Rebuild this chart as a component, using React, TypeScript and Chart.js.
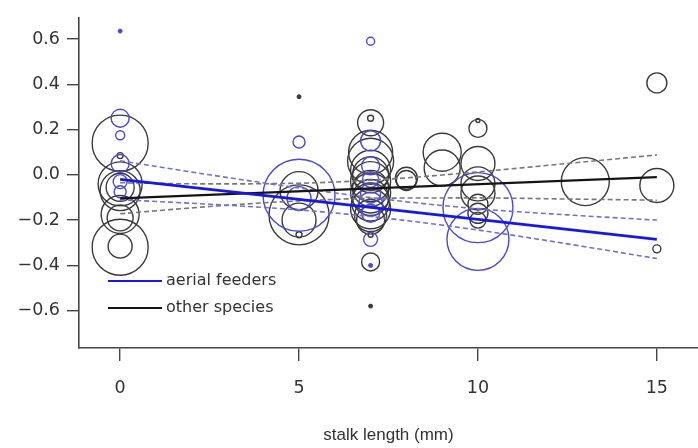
import React, { useEffect, useRef } from 'react';
import { Chart, registerables } from 'chart.js';

Chart.register(...registerables);

// ---- data ----
const xTicks = [0, 5, 10, 15];
const yTicks = [-0.6, -0.4, -0.2, 0, 0.2, 0.4, 0.6];
const seriesNames = ['aerial feeders', 'other species'];
const xTitle = 'stalk length (mm)';

// [stalk length, residual, circle radius(px)]
const aerialBubbles: [number, number, number][] = [
  [0, 0.25, 9], [0, 0.175, 4.5], [0, 0.05, 9], [0, -0.03, 7], [0, -0.075, 6],
  [5, 0.145, 6], [5, -0.09, 36], [5, -0.105, 12],
  [7, 0.59, 4], [7, 0.15, 10], [7, 0.04, 9], [7, -0.02, 8], [7, -0.08, 10],
  [7, -0.13, 12], [7, -0.17, 9], [7, -0.285, 7],
  [10, -0.145, 35], [10, -0.285, 31],
];
const aerialDots: [number, number][] = [[0, 0.635], [7, -0.4]];

const otherBubbles: [number, number, number][] = [
  [0, 0.14, 28], [0, 0.085, 3], [0, -0.04, 22], [0, -0.07, 20], [0, -0.055, 14],
  [0, -0.175, 19], [0, -0.19, 13], [0, -0.32, 28], [0, -0.315, 12],
  [5, -0.07, 19], [5, -0.2, 17], [5, -0.177, 30], [5, -0.265, 3],
  [7, 0.23, 13], [7, 0.25, 3], [7, 0.1, 22], [7, 0.06, 23], [7, 0.02, 20],
  [7, 0.0, 18], [7, -0.03, 20], [7, -0.06, 18], [7, -0.08, 20], [7, -0.1, 18],
  [7, -0.12, 19], [7, -0.15, 20], [7, -0.18, 16], [7, -0.2, 14], [7, -0.265, 2.5],
  [7, -0.385, 9],
  [8, -0.015, 11], [8, -0.025, 10],
  [9, 0.1, 19], [9, 0.03, 18],
  [10, 0.205, 9], [10, 0.24, 2], [10, 0.05, 17], [10, -0.04, 17], [10, -0.08, 17],
  [10, -0.13, 10], [10, -0.17, 10], [10, -0.2, 8],
  [13, -0.03, 24],
  [15, 0.406, 10], [15, -0.047, 17], [15, -0.327, 4],
];
const otherDots: [number, number][] = [[5, 0.345], [7, -0.58]];

const fitX = [0, 15];
const aerialFit = [-0.02, -0.285];
const otherFit = [-0.104, -0.01];

const ciX = [0, 2.5, 5, 7.5, 10, 12.5, 15];
const aerialUpper = [0.062, 0.0, -0.058, -0.11, -0.15, -0.177, -0.2];
const aerialLower = [-0.11, -0.13, -0.155, -0.193, -0.244, -0.305, -0.37];
const otherUpper = [-0.035, -0.04, -0.037, -0.019, 0.013, 0.05, 0.088];
const otherLower = [-0.172, -0.14, -0.115, -0.103, -0.102, -0.107, -0.112];

// ---- styles ----
const BLUE_CIRCLE = '#4848d4';
const BLUE_LINE = '#1818e4';
const BLUE_DASH = '#7272cc';
const BLACK_CIRCLE = '#3a3a3a';
const BLACK_LINE = '#151515';
const GREY_DASH = '#777777';
const AXIS = '#444444';
const TEXT = '#333333';

const toXY = (xs: number[], ys: number[]) => xs.map((x, i) => ({ x, y: ys[i] }));

const legendPlugin = {
  id: 'insideLegend',
  afterDraw(chart: any) {
    const ctx = chart.ctx as CanvasRenderingContext2D;
    const left = chart.chartArea.left;
    const rows = [
      { name: seriesNames[0], color: BLUE_LINE, y: 281, base: 285 },
      { name: seriesNames[1], color: BLACK_LINE, y: 308, base: 312 },
    ];
    ctx.save();
    rows.forEach((r) => {
      ctx.beginPath();
      ctx.strokeStyle = r.color;
      ctx.lineWidth = 2;
      ctx.moveTo(left + 29, r.y);
      ctx.lineTo(left + 83, r.y);
      ctx.stroke();
      ctx.fillStyle = TEXT;
      ctx.font = '16px "DejaVu Sans"';
      ctx.textBaseline = 'alphabetic';
      ctx.textAlign = 'left';
      ctx.fillText(r.name, left + 87, r.base);
    });
    ctx.restore();
  },
};

const fmtY = (v: number) => {
  const s = Math.abs(v).toFixed(1);
  return v < -1e-9 ? '\u2212' + s : s;
};

export default function App() {
  const ref = useRef<HTMLCanvasElement | null>(null);

  useEffect(() => {
    document.body.style.margin = '0';
    if (!ref.current) return;
    const lineDs = (data: any[], color: string, width: number, dash: number[], tension = 0) => ({
      type: 'line' as const,
      data,
      borderColor: color,
      borderWidth: width,
      borderDash: dash,
      pointRadius: 0,
      fill: false,
      tension,
      cubicInterpolationMode: 'monotone',
      order: 0,
    });
    const chart = new Chart(ref.current, {
      type: 'bubble',
      data: {
        datasets: [
          lineDs(toXY(fitX, aerialFit), BLUE_LINE, 2.6, []),
          lineDs(toXY(fitX, otherFit), BLACK_LINE, 2.4, []),
          lineDs(toXY(ciX, aerialUpper), BLUE_DASH, 1.6, [5, 3], 0.4),
          lineDs(toXY(ciX, aerialLower), BLUE_DASH, 1.6, [5, 3], 0.4),
          lineDs(toXY(ciX, otherUpper), GREY_DASH, 1.6, [5, 3], 0.4),
          lineDs(toXY(ciX, otherLower), GREY_DASH, 1.6, [5, 3], 0.4),
          {
            type: 'bubble',
            data: aerialBubbles.map(([x, y, r]) => ({ x, y, r })),
            borderColor: BLUE_CIRCLE,
            backgroundColor: 'rgba(0,0,0,0)',
            borderWidth: 1.4,
            order: 1,
          },
          {
            type: 'bubble',
            data: otherBubbles.map(([x, y, r]) => ({ x, y, r })),
            borderColor: BLACK_CIRCLE,
            backgroundColor: 'rgba(0,0,0,0)',
            borderWidth: 1.4,
            order: 1,
          },
          {
            type: 'bubble',
            data: aerialDots.map(([x, y]) => ({ x, y, r: 2 })),
            borderColor: BLUE_CIRCLE,
            backgroundColor: BLUE_CIRCLE,
            borderWidth: 1,
            order: 1,
          },
          {
            type: 'bubble',
            data: otherDots.map(([x, y]) => ({ x, y, r: 2 })),
            borderColor: BLACK_CIRCLE,
            backgroundColor: BLACK_CIRCLE,
            borderWidth: 1,
            order: 1,
          },
        ] as any,
      },
      options: {
        animation: false,
        responsive: false,
        events: [],
        layout: { autoPadding: false, padding: { top: 10, right: 0, left: 0, bottom: 0 } },
        plugins: { legend: { display: false }, tooltip: { enabled: false } },
        scales: {
          x: {
            type: 'linear',
            min: -1.15,
            max: 16.15,
            afterBuildTicks: (s: any) => { s.ticks = xTicks.map((v) => ({ value: v })); },
            afterFit: (s: any) => { s.height = 100; },
            grid: { drawOnChartArea: false, drawTicks: true, tickLength: 13, color: AXIS, lineWidth: 1.4 },
            border: { display: true, color: AXIS, width: 1.6 },
            ticks: {
              padding: 17,
              color: TEXT,
              font: { family: 'DejaVu Sans', size: 17.5 },
              maxRotation: 0,
              callback: (v: any) => String(v),
            },
            title: {
              display: true,
              text: xTitle,
              color: TEXT,
              font: { family: 'Liberation Sans', size: 17, lineHeight: 1.2 },
              padding: { top: 0, bottom: 2 },
            },
          },
          y: {
            type: 'linear',
            min: -0.765,
            max: 0.695,
            afterBuildTicks: (s: any) => { s.ticks = yTicks.map((v) => ({ value: v })); },
            afterFit: (s: any) => { s.width = 79; },
            grid: { drawOnChartArea: false, drawTicks: true, tickLength: 12, color: AXIS, lineWidth: 1.4 },
            border: { display: true, color: AXIS, width: 1.6 },
            ticks: {
              padding: 7,
              color: TEXT,
              font: { family: 'DejaVu Sans', size: 17.5 },
              callback: (v: any) => fmtY(Number(v)),
            },
          },
        },
      } as any,
      plugins: [legendPlugin],
    });
    return () => chart.destroy();
  }, []);

  return (
    <div style={{ width: 698, height: 448, position: 'relative', background: '#fff' }}>
      <canvas ref={ref} width={698} height={448} style={{ display: 'block' }} />
    </div>
  );
}
